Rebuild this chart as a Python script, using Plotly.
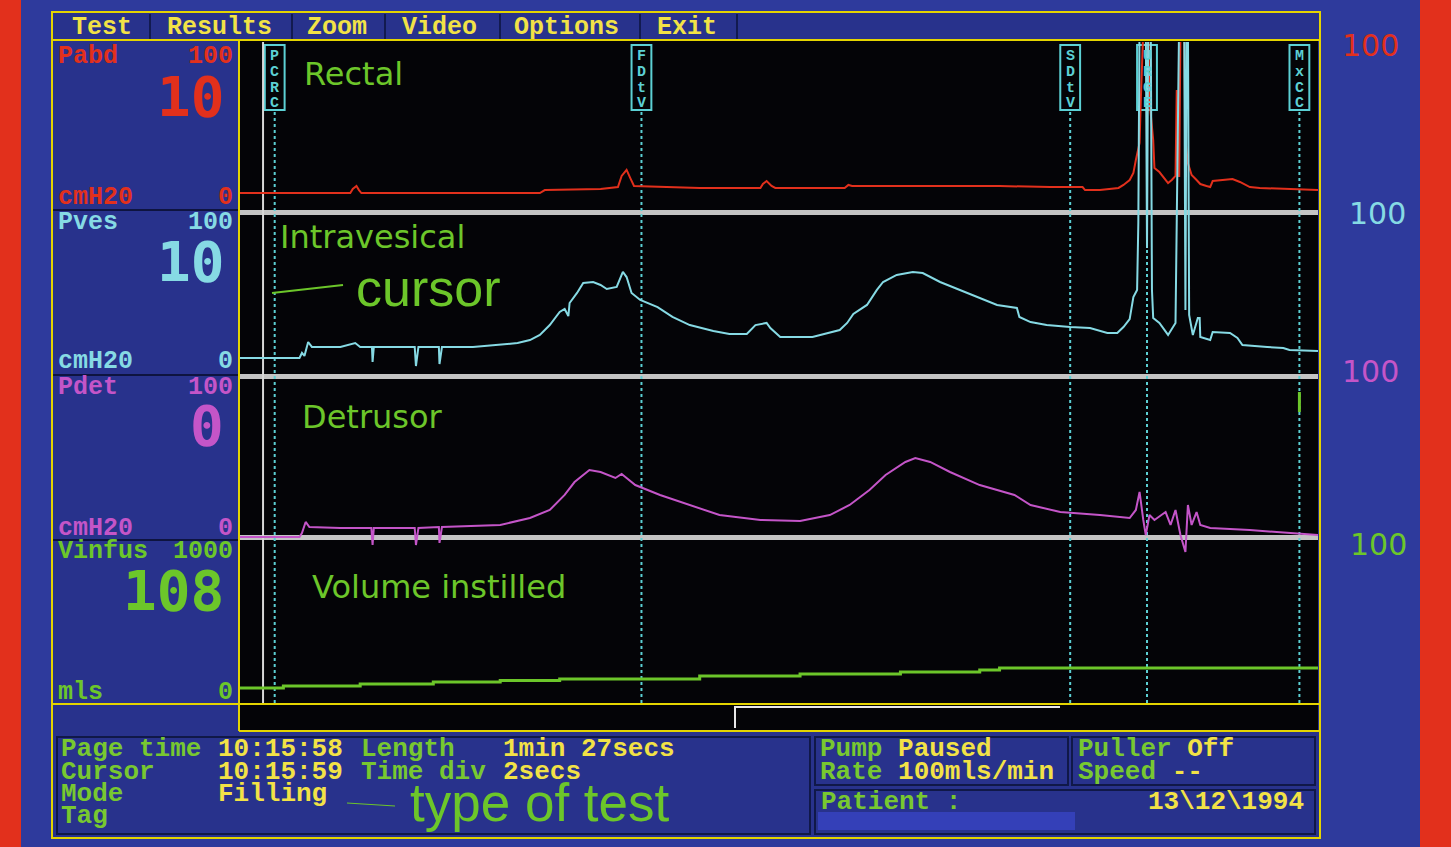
import plotly.graph_objects as go

W, H = 1451, 847

# ---------------- data (time in seconds from page start) ----------------
t_pabd = [0, 8.9, 9.1, 9.4, 9.6, 9.8, 24.2, 24.6, 29.1, 30.5, 30.8, 31.2, 31.5, 31.8, 37.1, 42.0, 42.2,
          42.5, 42.9, 43.2, 48.8, 49.1, 49.4, 61.3, 65.4, 68.0, 68.2, 69.4, 70.9, 71.3, 71.8, 72.1,
          72.3, 72.6, 72.7, 72.9, 73.3, 73.4, 73.7, 73.8, 74.2, 74.7, 74.9, 75.2, 75.5, 75.6, 75.7,
          75.8, 75.9, 76.2, 76.3, 76.5, 76.8, 77.2, 77.5, 78.0, 78.3, 78.5, 79.5, 80.1, 80.7, 81.5,
          82.3, 87]
pabd = [1.3, 1.3, 4, 6, 3.3, 1.3, 1.3, 3.3, 4, 5.3, 12.7, 16.7, 11.3, 6, 4.7, 4.7, 7.3,
        9.3, 6, 4.7, 4.7, 6.7, 6, 6, 5.3, 5.3, 3.3, 3.3, 4.7, 6.7, 10, 14.7,
        23.3, 34.7, 63.3, 110, 110, 63, 36.7, 18, 15.3, 10, 8, 10, 12.7, 70, 12.7,
        12.7, 110, 110, 36.7, 21.3, 13.3, 10, 7.3, 6, 5.3, 9.3, 10, 10.7, 8.7, 5.3,
        4.7, 3.3]

t_pves = [0, 4.8, 5.0, 5.2, 5.5, 5.8, 8.1, 9.3, 9.7, 10.65, 10.7, 10.8, 14.1, 14.2, 14.4, 16.05, 16.1,
          16.3, 18.8, 20.4, 22.4, 23.4, 24.2, 25.0, 25.8, 26.2, 26.5, 26.6, 27.2, 27.7, 28.5, 29.1,
          29.6, 30.4, 30.9, 31.2, 31.6, 32.3, 33.7, 34.9, 36.3, 38.2, 39.5, 40.9, 41.6, 42.5, 42.8,
          43.6, 46.2, 48.4, 49.0, 49.5, 50.6, 51.4, 51.9, 53.0, 54.3, 55.1, 56.5, 58.1, 59.7, 61.1,
          62.7, 62.9, 63.8, 65.1, 67.0, 68.6, 70.0, 70.8, 71.3, 71.8, 72.1, 72.4, 72.5, 72.6, 73.1,
          73.2, 73.3, 73.5, 73.6, 73.7, 74.2, 74.9, 75.5, 75.6, 75.8, 76.2, 76.3, 76.4, 76.5, 76.6,
          76.9, 77.3, 77.45, 77.5, 78.3, 78.5, 79.9, 80.5, 80.9, 82.9, 84.2, 84.7, 87]
pves = [1.3, 1.3, 4.7, 2.7, 12, 8.7, 8.7, 11.3, 8.7, 8.7, -1.3, 8.7, 8.7, -4, 8.7, 8.7, -2.7,
        8.7, 8.7, 10, 11.3, 13.3, 16.7, 23.3, 32, 34, 29.3, 38, 44.7, 51.3, 52, 50,
        47.3, 48.7, 58.7, 55.3, 44.7, 40, 35.3, 28.7, 23.3, 19.3, 17.3, 17.3, 23.3, 24.7, 21.3,
        15.3, 15.3, 20, 24.7, 30.7, 36.7, 46.7, 52, 56.7, 58.7, 58, 52, 46.7, 41.3, 36.7,
        34.7, 28.7, 25.3, 23.3, 22, 21.3, 18, 18, 22, 27.3, 42, 46.7, 91.3, 230, 230,
        74.7, 230, 230, 46.7, 28, 24.7, 16.7, 24.7, 92, 230, 230, 33.3, 230, 230, 30,
        16.7, 28, 28, 15.3, 13.3, 18.7, 18, 14.7, 10, 8.7, 8, 6.7, 6]

t_pdet = [0, 4.8, 5.0, 5.3, 5.6, 8.1, 10.6, 10.7, 10.8, 14.1, 14.2, 14.4, 16.05, 16.1, 16.3, 21.0,
          23.4, 25.0, 26.2, 27.0, 28.2, 29.1, 30.3, 30.8, 31.2, 31.9, 33.9, 36.3, 38.7, 42.0, 45.2,
          47.6, 49.2, 50.8, 52.1, 53.7, 54.5, 55.7, 57.3, 59.7, 62.5, 63.8, 66.2, 69.4, 71.8, 72.3,
          72.6, 72.9, 73.1, 73.4, 73.8, 74.7, 75.1, 75.5, 75.9, 76.3, 76.5, 76.8, 77.2, 77.5, 78.3,
          81.5, 87]
pdet = [0.7, 0.7, 3.3, 10.7, 7.3, 6.7, 6.7, -4.7, 6.7, 6.7, -4.7, 6.7, 7.3, -3.3, 7.3, 8.7,
        13.3, 18.7, 28.7, 37.3, 45.3, 44, 40, 42.7, 40, 35.3, 28.7, 22, 15.3, 12, 11.3,
        15.3, 22, 32, 42, 50.7, 53.3, 50.7, 44, 35.3, 28.7, 22, 17.3, 15.3, 13.3, 18.7,
        30.7, 12, 2, 15.3, 12, 17.3, 8.7, 18.7, 2, -9.3, 22, 8.7, 17.3, 8.7, 6.7,
        5.3, 2]

t_vol = [0, 3.5, 9.7, 15.6, 21.0, 25.8, 32.3, 37.1, 45.2, 53.3, 59.7, 61.3, 87]
vinfus = [0, 14, 27, 41, 50, 61, 61, 81, 95, 108, 122, 135, 135]

event_t = [2.8, 32.4, 67.0, 73.2, 85.5]
event_lbl = ["PCRC", "FDtV", "SDtV", "URGE", "MxCC"]
cursor_t = 1.86
page_len = 87

menu_items = ["Test", "Results", "Zoom", "Video", "Options", "Exit"]
channel_names = ["Pabd", "Pves", "Pdet", "Vinfus"]
channel_units = ["cmH20", "cmH20", "cmH20", "mls"]
channel_full = ["100", "100", "100", "1000"]
channel_now = ["10", "10", "0", "108"]
trace_titles = ["Rectal", "Intravesical", "Detrusor", "Volume instilled"]
right_scale = ["100", "100", "100", "100"]

# ---------------- styling / layout helpers ----------------
RED = "#e2301c"
CYAN = "#86dae4"
MAG = "#c455c8"
GRN = "#6cc62a"
YEL = "#f2e246"
LGRN = "#78c830"
BLUE_OUT = "#2e3a9c"
BLUE_IN = "#28328c"
BLACK = "#040407"
GRAY = "#c4c4c4"
YLINE = "#e4d400"
TAGC = "#5cd0d4"


def X(px):
    return px / W


def Y(py):
    return 1 - py / H


def yax(top, bot, px0, scale):
    return dict(domain=[Y(bot), Y(top)], range=[(px0 - bot) / scale, (px0 - top) / scale],
                visible=False, fixedrange=True, anchor="x")


fig = go.Figure()
colors = [RED, CYAN, MAG, GRN]
series = [(t_pabd, pabd, "y"), (t_pves, pves, "y2"), (t_pdet, pdet, "y3"), (t_vol, vinfus, "y4")]
for (tx, vy, ya), c in zip(series, colors):
    fig.add_trace(go.Scatter(x=tx, y=vy, mode="lines", yaxis=ya, xaxis="x",
                             line=dict(color=c, width=3 if ya == "y4" else 2,
                                       shape="hv" if ya == "y4" else "linear"),
                             hoverinfo="skip", showlegend=False))

shapes = []


def rect(x0, y0, x1, y1, fill=None, line=None, lw=0, layer="below"):
    d = dict(type="rect", xref="paper", yref="paper", x0=X(x0), x1=X(x1), y0=Y(y1), y1=Y(y0),
             layer=layer, line=dict(width=lw, color=line or "rgba(0,0,0,0)"))
    if fill:
        d["fillcolor"] = fill
    shapes.append(d)


def line(x0, y0, x1, y1, color, w=1, dash=None, layer="below"):
    d = dict(type="line", xref="paper", yref="paper", x0=X(x0), x1=X(x1), y0=Y(y0), y1=Y(y1),
             layer=layer, line=dict(color=color, width=w))
    if dash:
        d["line"]["dash"] = dash
    shapes.append(d)


# outer red strips
rect(0, 0, 21, H, fill=RED)
rect(1420, 0, W, H, fill=RED)
# main frame
rect(52, 12, 1320, 838, fill=BLUE_IN, line=YLINE, lw=2)
line(52, 40, 1320, 40, YLINE, 2)
for sx in [150, 292, 385, 500, 640, 737]:
    line(sx, 14, sx, 39, "#121a50", 2)
# plot area
rect(240, 41, 1318, 703, fill=BLACK)
line(239, 40, 239, 731, YLINE, 2)
line(52, 704, 1320, 704, YLINE, 2)
rect(240, 705, 1318, 730, fill=BLACK)
line(239, 731, 1320, 731, YLINE, 2)
# left panel separators
for sy in [210, 375, 540]:
    line(53, sy, 238, sy, "#0e1440", 2)
# gray channel separators
rect(240, 210, 1318, 215, fill=GRAY)
rect(240, 374, 1318, 379, fill=GRAY)
rect(240, 535, 1318, 540, fill=GRAY)

# event markers (data x)
for et in event_t:
    shapes.append(dict(type="line", xref="x", yref="paper", x0=et, x1=et, y0=Y(703), y1=Y(110),
                       layer="below", line=dict(color=TAGC, width=2, dash="dot")))
    shapes.append(dict(type="rect", xref="x", yref="paper", x0=et - 0.8, x1=et + 0.8,
                       y0=Y(110), y1=Y(45), layer="below", fillcolor=BLACK,
                       line=dict(color=TAGC, width=2)))
# green marks in detrusor channel at the last events
shapes.append(dict(type="line", xref="x", yref="paper", x0=event_t[4], x1=event_t[4], y0=Y(412), y1=Y(392),
                   layer="above", line=dict(color=GRN, width=3)))
# cursor
shapes.append(dict(type="line", xref="x", yref="paper", x0=cursor_t, x1=cursor_t, y0=Y(703), y1=Y(42),
                   layer="below", line=dict(color="#d8d8d8", width=2)))
# annotation pointer lines
line(272, 293, 343, 285, GRN, 2, layer="above")
line(347, 803, 395, 806, GRN, 1, layer="above")
# bottom scroll bracket
shapes.append(dict(type="path", xref="paper", yref="paper", layer="above",
                   path=f"M {X(735)} {Y(728)} L {X(735)} {Y(707)} L {X(1060)} {Y(707)}",
                   line=dict(color="#e8e8e8", width=2)))
# info boxes
for (a, b, c, d) in [(57, 737, 810, 834), (815, 737, 1068, 785), (1072, 737, 1315, 785), (815, 790, 1315, 834)]:
    rect(a, b, c, d, line="#101848", lw=2)
rect(818, 812, 1075, 830, fill="#3440b8")

ann = []
MONO = "Liberation Mono"


def txt(s, x, y, color, size=25, family=MONO, xa="left", bold=True):
    ann.append(dict(text=f"<b>{s}</b>" if bold else s, x=X(x), y=Y(y), xref="paper", yref="paper",
                    xanchor=xa, yanchor="middle", showarrow=False,
                    font=dict(family=family, size=size, color=color)))


def pair(a, b, x, y, size=26):
    s = (f"<b><span style='color:{LGRN}'>{a}</span> "
         f"<span style='color:{YEL}'>{b}</span></b>")
    ann.append(dict(text=s, x=X(x), y=Y(y), xref="paper", yref="paper", xanchor="left",
                    yanchor="middle", showarrow=False, font=dict(family=MONO, size=size, color=LGRN)))


# menu
for item, mx in zip(menu_items, [70, 165, 305, 400, 512, 655]):
    txt(item, mx, 27, YEL)

# left channel panel
tops = [57, 222, 387, 551]
bigs = [97, 262, 425, 590]
bots = [197, 362, 528, 692]
for i in range(4):
    c = colors[i]
    txt(channel_names[i], 56, tops[i], c)
    txt(channel_full[i], 235, tops[i], c, xa="right")
    txt(channel_now[i], 226, bigs[i], c, size=56, family="DejaVu Sans Mono", xa="right")
    txt(channel_units[i], 56, bots[i], c)
    txt("0", 235, bots[i], c, xa="right")

# green trace titles
for s, (x, y) in zip(trace_titles, [(302, 74), (278, 237), (300, 417), (310, 587)]):
    txt(s, x, y, GRN, size=32, family="DejaVu Sans", bold=False)
txt("cursor", 354, 288, GRN, size=52, family="Liberation Sans", bold=False)
txt("type of test", 408, 802, GRN, size=53, family="Liberation Sans", bold=False)

# right scale labels
for s, c, (x, y) in zip(right_scale, colors, [(1370, 46), (1377, 213), (1370, 371), (1378, 544)]):
    ann.append(dict(text=s, x=X(x), y=Y(y), xref="paper", yref="paper", xanchor="center",
                    yanchor="middle", showarrow=False, font=dict(family="DejaVu Sans", size=30, color=c)))

# event tags text, one letter per row
for et, lb in zip(event_t, event_lbl):
    for k, ch in enumerate(lb):
        ann.append(dict(text=f"<b>{ch}</b>", x=et, y=Y(56 + 16 * k), xref="x", yref="paper",
                        xanchor="center", yanchor="middle", showarrow=False,
                        font=dict(family=MONO, size=15, color=TAGC)))

# bottom info
rows = [749, 772, 794, 816]
for s, r in zip(["Page time", "Cursor", "Mode", "Tag"], rows):
    txt(s, 59, r, LGRN, size=26)
for s, r in zip(["10:15:58", "10:15:59", "Filling"], rows):
    txt(s, 216, r, YEL, size=26)
txt("Length", 359, rows[0], LGRN, size=26)
txt("Time div", 359, rows[1], LGRN, size=26)
txt("1min 27secs", 501, rows[0], YEL, size=26)
txt("2secs", 501, rows[1], YEL, size=26)
pair("Pump", "Paused", 818, rows[0])
pair("Rate", "100mls/min", 818, rows[1])
pair("Puller", "Off", 1076, rows[0])
pair("Speed", "--", 1076, rows[1])
txt("Patient :", 819, 802, LGRN, size=26)
txt("13\\12\\1994", 1306, 802, YEL, xa="right", size=26)

fig.update_layout(
    width=W, height=H, margin=dict(l=0, r=0, t=0, b=0),
    paper_bgcolor=BLUE_OUT, plot_bgcolor="rgba(0,0,0,0)",
    xaxis=dict(domain=[X(240), X(1318)], range=[0, page_len], visible=False, fixedrange=True,
               anchor="y4"),
    yaxis=yax(42, 212, 195, 1.5),
    yaxis2=yax(42, 375, 360, 1.5),
    yaxis3=yax(378, 560, 538, 1.5),
    yaxis4=yax(542, 703, 688, 0.148),
    shapes=shapes, annotations=ann, showlegend=False,
)

fig.write_html("out.html")
